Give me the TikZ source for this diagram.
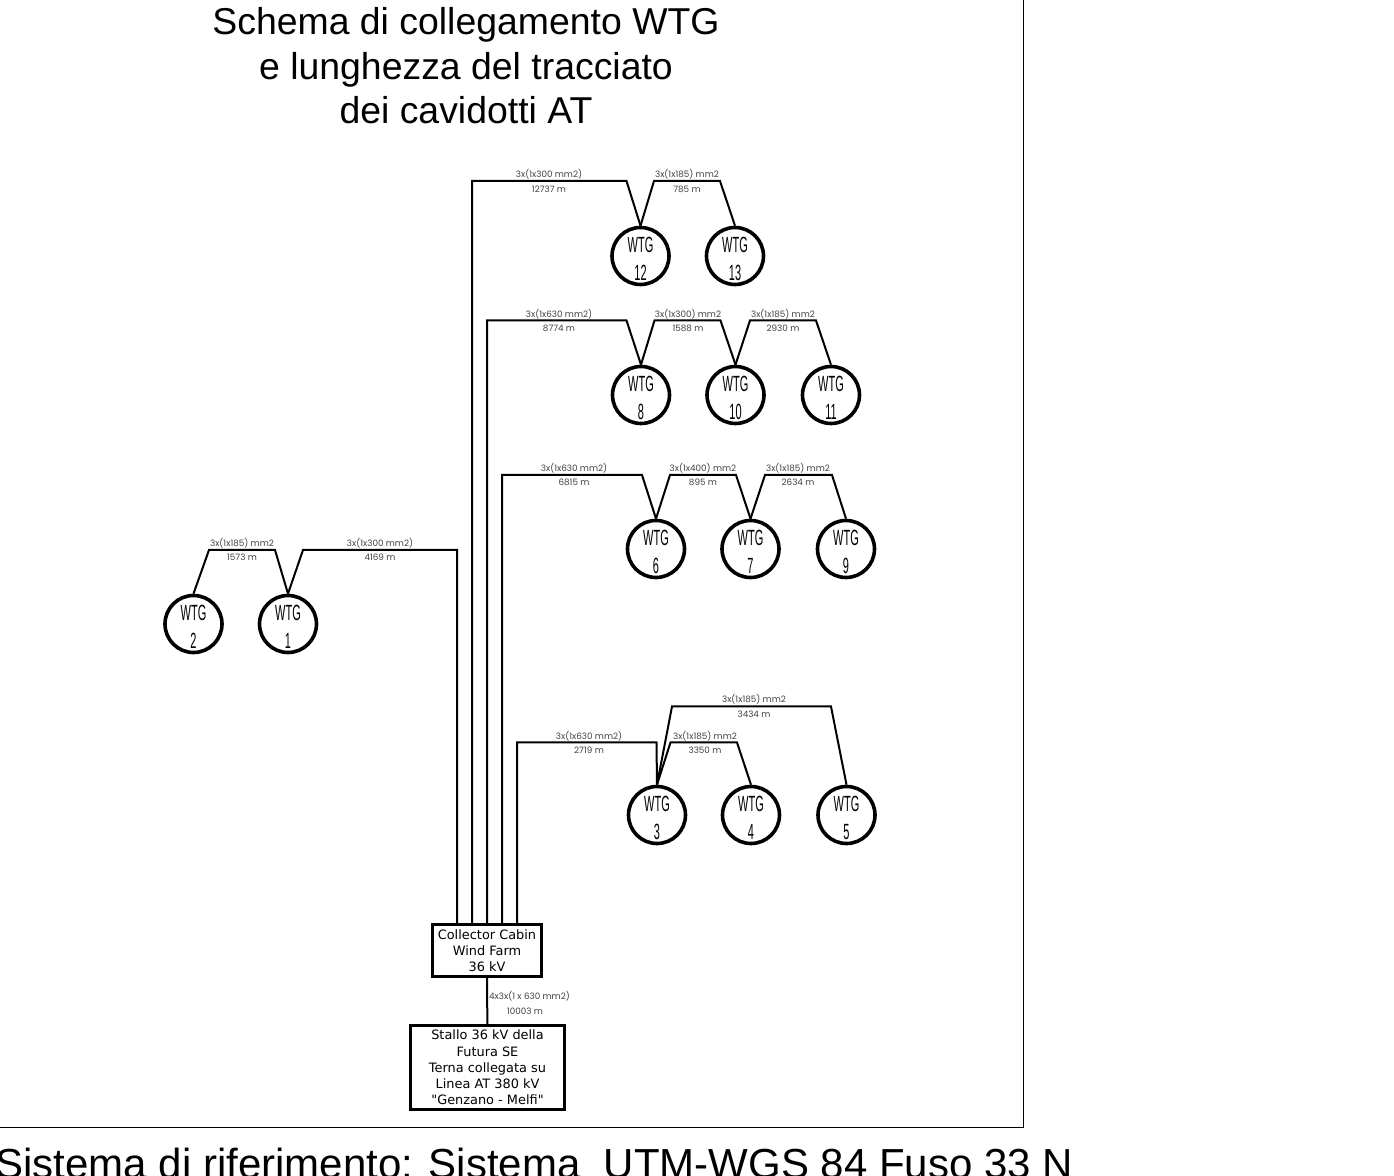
\documentclass[tikz,border=0pt]{standalone}
\usepackage{fontspec}
\setmainfont{Liberation Sans}
\newfontfamily\smallf{Poppins}
\newfontfamily\boxf{DejaVu Sans}
\newcommand\wtgtxt[1]{\scalebox{.5}[1]{\shortstack{\rule{0pt}{10.4pt}WTG\\[3.2pt]#1}}}
\tikzset{
  x=0.5pt,y=-0.5pt,
  wtg/.style={circle,draw=black,line width=1.8pt,minimum size=28.5pt,inner sep=0pt,font=\fontsize{11}{13}\selectfont,text=black},
  cable/.style={draw=black,line width=1pt,line join=miter},
  cablab/.style={inner sep=0pt,font=\smallf\fontsize{4.4}{5}\selectfont,text=black!75},
  cabin/.style={draw=black,line width=1.5pt,inner sep=0pt,align=center,fill=white,font=\boxf\fontsize{6.45}{8.1}\selectfont},
  title/.style={inner sep=0pt,align=center,font=\fontsize{18.7}{22.25}\selectfont},
  reftext/.style={inner sep=0pt,anchor=west,font=\fontsize{21}{25}\selectfont},
  frameline/.style={draw=black,line width=0.5pt}
}
\begin{document}
\begin{tikzpicture}
\useasboundingbox (0,0) rectangle (1394,1176);
\coordinate (ftop) at (1023.5,0);
\coordinate (fcorner) at (1023.5,1127);
\coordinate (fleft) at (0,1127);
\draw[frameline] (ftop) -- (fcorner) -- (fleft);
\node[title] (ttl) at (466,66) {Schema di collegamento WTG\\e lunghezza del tracciato\\dei cavidotti AT};
\node[reftext] (ref) at (-5,1163) {Sistema di riferimento: Sistema\ \ UTM-WGS 84 Fuso 33 N};
% turbines
\node[wtg] (w12) at (640.5,256) {\wtgtxt{12}};
\node[wtg] (w13) at (735,256) {\wtgtxt{13}};
\node[wtg] (w8) at (641,395) {\wtgtxt{8}};
\node[wtg] (w10) at (735.5,395) {\wtgtxt{10}};
\node[wtg] (w11) at (831,395) {\wtgtxt{11}};
\node[wtg] (w6) at (656,549) {\wtgtxt{6}};
\node[wtg] (w7) at (750.5,549) {\wtgtxt{7}};
\node[wtg] (w9) at (846,549) {\wtgtxt{9}};
\node[wtg] (w3) at (657,815) {\wtgtxt{3}};
\node[wtg] (w4) at (751,815) {\wtgtxt{4}};
\node[wtg] (w5) at (846.5,815) {\wtgtxt{5}};
\node[wtg] (w2) at (193.5,624) {\wtgtxt{2}};
\node[wtg] (w1) at (288,624) {\wtgtxt{1}};
% boxes
\node[cabin,minimum width=54.5pt,minimum height=26pt] (cab) at (487,950.5) {Collector Cabin\\Wind Farm\\36 kV};
\node[cabin,minimum width=77pt,minimum height=42pt] (sta) at (487.5,1067.5) {Stallo 36 kV della\\Futura SE\\Terna collegata su\\Linea AT 380 kV\\"Genzano - Melfi"};
\coordinate (c1) at (457,924);
\coordinate (c2) at (472,924);
\coordinate (c3) at (487,924);
\coordinate (c4) at (502,924);
\coordinate (c5) at (517,924);
% connectors
\draw[cable] (c2) -- (472,181) -- (626.5,181) -- (w12.north);
\draw[cable] (w12.north) -- (654,181) -- (720,181) -- (w13.north);
\draw[cable] (c3) -- (487,320.5) -- (626.5,320.5) -- (w8.north);
\draw[cable] (w8.north) -- (654.5,320.5) -- (720.5,320.5) -- (w10.north);
\draw[cable] (w10.north) -- (750,320.5) -- (816,320.5) -- (w11.north);
\draw[cable] (c4) -- (502,475) -- (642,475) -- (w6.north);
\draw[cable] (w6.north) -- (670,475) -- (736,475) -- (w7.north);
\draw[cable] (w7.north) -- (765,475) -- (832,475) -- (w9.north);
\draw[cable] (c5) -- (517,742.5) -- (656.5,742.5) -- (w3.north);
\draw[cable] (w3.north) -- (670.5,742.5) -- (737,742.5) -- (w4.north);
\draw[cable] (w3.north) -- (672,706.5) -- (831,706.5) -- (w5.north);
\draw[cable] (c1) -- (457,550) -- (303,550) -- (w1.north);
\draw[cable] (w1.north) -- (275,550) -- (209,550) -- (w2.north);
\draw[cable] (cab) -- (sta);
% labels
\node[cablab] (l1) at (549,174.5) {3x(1x300 mm2)};
\node[cablab] (l2) at (549,189) {12737 m};
\node[cablab] (l3) at (687,174.5) {3x(1x185) mm2};
\node[cablab] (l4) at (687,189) {785 m};
\node[cablab] (l5) at (559,314) {3x(1x630 mm2)};
\node[cablab] (l6) at (559,328) {8774 m};
\node[cablab] (l7) at (688,314) {3x(1x300) mm2};
\node[cablab] (l8) at (688,328) {1588 m};
\node[cablab] (l9) at (783,314) {3x(1x185) mm2};
\node[cablab] (l10) at (783,328) {2930 m};
\node[cablab] (l11) at (574,468) {3x(1x630 mm2)};
\node[cablab] (l12) at (574,482) {6815 m};
\node[cablab] (l13) at (703,468) {3x(1x400) mm2};
\node[cablab] (l14) at (703,482) {895 m};
\node[cablab] (l15) at (798,468) {3x(1x185) mm2};
\node[cablab] (l16) at (798,482) {2634 m};
\node[cablab] (l17) at (754,699.5) {3x(1x185) mm2};
\node[cablab] (l18) at (754,714) {3434 m};
\node[cablab] (l19) at (589,736) {3x(1x630 mm2)};
\node[cablab] (l20) at (589,750) {2719 m};
\node[cablab] (l21) at (705,736) {3x(1x185) mm2};
\node[cablab] (l22) at (705,750) {3350 m};
\node[cablab] (l23) at (242,543) {3x(1x185) mm2};
\node[cablab] (l24) at (242,557) {1573 m};
\node[cablab] (l25) at (380,543) {3x(1x300 mm2)};
\node[cablab] (l26) at (380,557) {4169 m};
\node[cablab] (l27) at (529.5,996) {4x3x(1 x 630 mm2)};
\node[cablab] (l28) at (525,1011) {10003 m};
\end{tikzpicture}
\end{document}
